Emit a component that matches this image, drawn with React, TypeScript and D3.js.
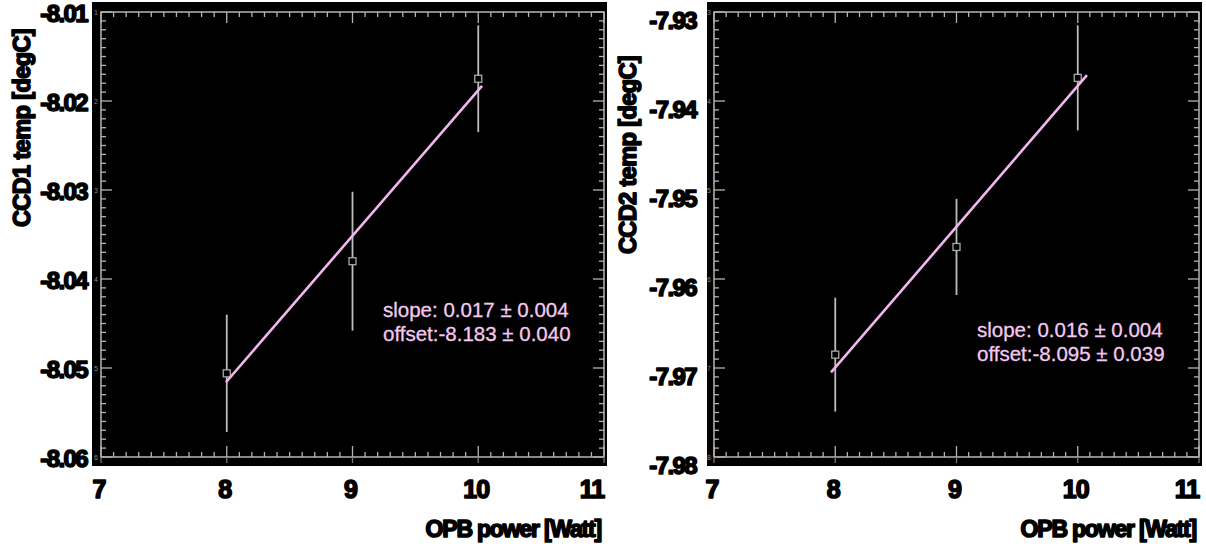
import React from "react";
import * as d3 from "d3";

// ---------- data ----------
const xTicks = [7, 8, 9, 10, 11];

const leftX = [8, 9, 10];
const leftY = [-8.0506, -8.038, -8.0175];
const leftErr = [0.0066, 0.0078, 0.006];
const leftFitX = [7.994, 10.03];
const leftFitY = [-8.0516, -8.0183];
const leftYTicks = [-8.01, -8.02, -8.03, -8.04, -8.05, -8.06];
const leftYLabels = ["-8.01", "-8.02", "-8.03", "-8.04", "-8.05", "-8.06"];
const leftNote = ["slope: 0.017 \u00b1 0.004", "offset:-8.183 \u00b1 0.040"];

const rightX = [8, 9, 10];
const rightY = [-7.9685, -7.9564, -7.9374];
const rightErr = [0.0064, 0.0054, 0.0059];
const rightFitX = [7.965, 10.076];
const rightFitY = [-7.9705, -7.9371];
const rightYTicks = [-7.93, -7.94, -7.95, -7.96, -7.97, -7.98];
const rightYLabels = ["-7.93", "-7.94", "-7.95", "-7.96", "-7.97", "-7.98"];
const rightNote = ["slope: 0.016 \u00b1 0.004", "offset:-8.095 \u00b1 0.039"];

const FONT = "'Liberation Sans', Arial, Helvetica, sans-serif";
const AXIS = "#b4b4b4";
const PINK = "#f2b6ee";
const TEXT_PINK = "#f4c8f2";

type PanelProps = {
  bx0: number; bx1: number; x0: number; x1: number;
  yDomain: [number, number];
  xs: number[]; ys: number[]; errs: number[];
  fitX: number[]; fitY: number[];
  yTicks: number[]; yLabels: string[];
  yTitle: string; yTitleX: number; yTitleY: number;
  labelRight: number; labelDy: number;
  note: string[]; noteX: number; noteY: number;
};

function Panel(p: PanelProps) {
  const top = 12, bottom = 457;
  const x = d3.scaleLinear().domain([7, 11]).range([p.x0, p.x1]);
  const y = d3.scaleLinear().domain(p.yDomain).range([top, bottom]);
  const minorX = d3.range(0, 41).map((i) => 7 + i * 0.1);
  const minorY = d3.range(0, 51).map((i) => p.yDomain[0] + ((p.yDomain[1] - p.yDomain[0]) * i) / 50);
  const line = d3.line<[number, number]>().x((d) => x(d[0])).y((d) => y(d[1]));
  const fitPts: [number, number][] = p.fitX.map((v, i) => [v, p.fitY[i]]);
  const isMajorX = (v: number) => Math.abs(v - Math.round(v)) < 1e-6;
  const heavy = { fill: "#000", stroke: "#000", strokeWidth: 1.6, strokeLinejoin: "round" as const };
  return (
    <g>
      <rect x={p.bx0} y={2} width={p.bx1 - p.bx0} height={464} fill="#000" />
      <rect x={p.x0} y={top} width={p.x1 - p.x0} height={bottom - top} fill="none" stroke={AXIS} strokeWidth={1.5} />
      {minorX.map((v, i) => {
        const L = isMajorX(v) ? 11 : 5;
        return (
          <g key={"tx" + i}>
            <line x1={x(v)} x2={x(v)} y1={bottom} y2={bottom - L} stroke={AXIS} strokeWidth={1.3} />
            <line x1={x(v)} x2={x(v)} y1={top} y2={top + L} stroke={AXIS} strokeWidth={1.3} />
          </g>
        );
      })}
      {minorY.map((v, i) => {
        const L = i % 10 === 0 ? 11 : 5;
        return (
          <g key={"ty" + i}>
            <line x1={p.x0} x2={p.x0 + L} y1={y(v)} y2={y(v)} stroke={AXIS} strokeWidth={1.3} />
            <line x1={p.x1} x2={p.x1 - L} y1={y(v)} y2={y(v)} stroke={AXIS} strokeWidth={1.3} />
          </g>
        );
      })}
      {p.yTicks.map((v, i) => (
        <text key={"sm" + i} x={p.x0 - 3} y={y(v) + 3} fontSize={7} fill="#8a8a8a" textAnchor="end" fontFamily={FONT}>
          {p.yLabels[i].slice(-1)}
        </text>
      ))}
      {xTicks.map((v, i) => (
        <line key={"bx" + i} x1={x(v)} x2={x(v)} y1={bottom} y2={bottom + 6} stroke="#777" strokeWidth={1.3} />
      ))}
      {/* error bars */}
      {p.xs.map((v, i) => (
        <line key={"e" + i} x1={x(v)} x2={x(v)} y1={y(p.ys[i] + p.errs[i])} y2={y(p.ys[i] - p.errs[i])} stroke="#bdbdbd" strokeWidth={1.8} />
      ))}
      {p.xs.map((v, i) => (
        <rect key={"s" + i} x={x(v) - 3.5} y={y(p.ys[i]) - 3.5} width={7} height={7} fill="#000" stroke="#a8a8a8" strokeWidth={1.3} />
      ))}
      <path d={line(fitPts) || ""} fill="none" stroke={PINK} strokeWidth={2.6} />
      {p.note.map((t, i) => (
        <text key={"n" + i} x={p.noteX} y={p.noteY + i * 24} fontSize={20.5} fill={TEXT_PINK} stroke={TEXT_PINK} strokeWidth={0.3} fontFamily={FONT}>
          {t}
        </text>
      ))}
      {/* y tick labels */}
      {p.yTicks.map((v, i) => (
        <text key={"yl" + i} x={p.labelRight} y={y(v) + p.labelDy} fontSize={24} fontWeight="bold" textAnchor="end"
          fontFamily={FONT} {...heavy} letterSpacing={-1.6}>
          {p.yLabels[i]}
        </text>
      ))}
      {/* x tick labels */}
      {xTicks.map((v, i) => (
        <text key={"xl" + i} x={v === 11 ? x(v) - 12 : x(v) - 2} y={498} fontSize={25} fontWeight="bold" textAnchor="middle"
          fontFamily={FONT} {...heavy} letterSpacing={-1}>
          {String(v)}
        </text>
      ))}
      <text x={p.x1 - 3} y={537} fontSize={23} fontWeight="bold" textAnchor="end" fontFamily={FONT}
        {...heavy} letterSpacing={-1.2}>
        OPB power [Watt]
      </text>
      <text transform={`translate(${p.yTitleX},${p.yTitleY}) rotate(-90)`} fontSize={23.5} fontWeight="bold"
        textAnchor="middle" dominantBaseline="central" fontFamily={FONT} {...heavy} letterSpacing={-0.6}>
        {p.yTitle}
      </text>
    </g>
  );
}

export default function App() {
  return (
    <svg width={1206} height={544} style={{ position: "absolute", left: 0, top: 0, background: "#fff" }}>
      <Panel
        bx0={92} bx1={607} x0={101} x1={604}
        yDomain={[-8.01, -8.06]}
        xs={leftX} ys={leftY} errs={leftErr}
        fitX={leftFitX} fitY={leftFitY}
        yTicks={leftYTicks} yLabels={leftYLabels}
        yTitle="CCD1 temp [degC]" yTitleX={22} yTitleY={128}
        labelRight={87} labelDy={10}
        note={leftNote} noteX={383} noteY={317}
      />
      <Panel
        bx0={707} bx1={1202} x0={714} x1={1199}
        yDomain={[-7.93, -7.98]}
        xs={rightX} ys={rightY} errs={rightErr}
        fitX={rightFitX} fitY={rightFitY}
        yTicks={rightYTicks} yLabels={rightYLabels}
        yTitle="CCD2 temp [degC]" yTitleX={628} yTitleY={155}
        labelRight={696} labelDy={17}
        note={rightNote} noteX={977} noteY={337}
      />
    </svg>
  );
}
